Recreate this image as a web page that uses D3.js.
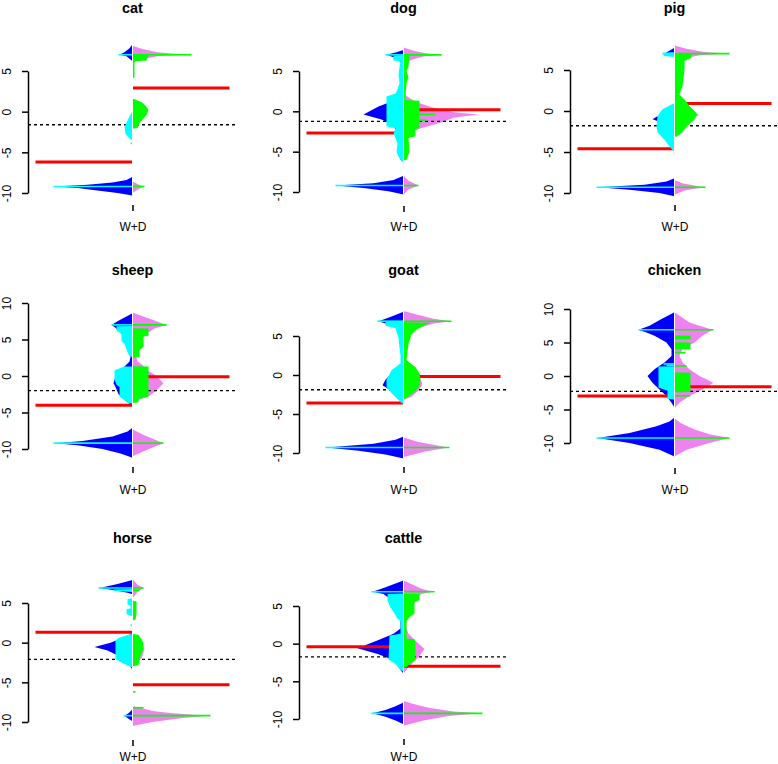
<!DOCTYPE html>
<html><head><meta charset="utf-8">
<script src="https://cdn.jsdelivr.net/npm/d3@7"></script>
<style>
body{margin:0;background:#fff}
svg{display:block}
text{font-family:"Liberation Sans",Arial,Helvetica,sans-serif}
</style>
</head><body>
<svg id="c" width="778" height="764"></svg>
<script>
// ---------------- DATA ----------------
const animals = ["cat","dog","pig","sheep","goat","chicken","horse","cattle"];
const groupLabel = "W+D";
const ticksA = [-10,-5,0,5];
const ticksB = [-10,-5,0,5,10];

// means: left group (red, left), right group (red, right), overall (dotted)
const leftMeans    = [-6.2,-2.7,-4.6,-4.0,-3.6,-3.0, 1.3,-0.4];
const rightMeans   = [ 2.9, 0.2, 0.9,-0.1,-0.2,-1.6,-5.3,-3.0];
const overallMeans = [-1.6,-1.25,-1.8,-2.0,-1.9,-2.3,-2.1,-1.75];

// density profiles: [value, density width]
const catBlue = [[8.3,0],[7.8,3],[7.3,8],[7.0,13],[6.8,6],[6.4,2],[6.2,0],[-8.0,0],[-8.4,6],[-8.7,20],[-9.0,45],[-9.2,78],[-9.4,55],[-9.7,35],[-10.0,15],[-10.3,0]];
const catViolet = [[8.1,0],[7.7,10],[7.3,25],[7.0,54],[6.8,25],[6.4,8],[6.0,0],[-8.6,0],[-8.9,5],[-9.2,11],[-9.6,5],[-10.0,0]];
const catCyan = [[0.0,0],[-0.1,1],[-0.6,3],[-1.1,5],[-1.9,8],[-2.7,7],[-3.3,3],[-3.5,0]];
const catGreen = [[7.0,0],[6.95,16],[6.3,14],[6.2,2],[4.2,2],[4.1,0],[1.6,0],[1.5,3],[1.1,10],[0.6,14],[0.2,16],[-0.4,14],[-1.4,7],[-2.0,5],[-2.1,0]];
const catCyanLines = [[7.0,14],[-3.9,2],[-9.2,79]];
const catGreenLines = [[7.0,59],[-9.2,12]];

const dogBlue = [[7.6,0],[7.3,8],[7.0,17],[6.7,10],[6.4,5],[6.0,2],[5.6,1],[2.7,1],[2.3,3],[1.4,8],[0.6,25],[-0.4,40],[-1.0,22],[-1.6,12],[-2.5,6],[-3.0,3],[-6.0,3],[-6.3,0],[-8.0,0],[-8.5,10],[-8.9,30],[-9.2,67],[-9.5,40],[-9.9,15],[-10.3,0]];
const dogViolet = [[7.9,0],[7.5,10],[7.2,22],[7.0,37],[6.8,20],[6.4,8],[6.0,3],[5.5,1],[2.3,1],[1.9,3],[1.2,12],[0.5,28],[-0.1,50],[-0.4,75],[-0.8,50],[-1.4,37],[-2.0,20],[-2.3,12],[-2.6,4],[-3.0,1],[-6.0,1],[-6.2,0],[-8.0,0],[-8.6,5],[-9.2,15],[-9.7,5],[-10.3,0]];
const dogCyan = [[7.0,0],[6.9,10],[6.3,10],[6.2,3],[5.5,4],[4.5,5],[3.5,4],[2.7,6],[2.2,8],[1.85,17],[-1.85,17],[-2.1,8],[-2.8,10],[-3.3,8],[-4.0,6],[-5.0,7],[-5.6,5],[-6.2,2],[-6.3,0]];
const dogGreen = [[7.0,0],[6.9,6],[5.5,5],[5.0,3],[4.2,5],[3.5,3],[2.0,2],[1.4,2],[1.3,16],[-2.05,16],[-2.3,12],[-3.1,12],[-3.3,5],[-5.0,6],[-6.0,3],[-6.1,0]];
const dogCyanLines = [[7.0,18],[-9.2,68]];
const dogGreenLines = [[7.0,38],[-0.4,32],[-1.1,23],[-9.2,15]];

const pigBlue = [[7.7,0],[7.3,6],[7.0,10],[6.8,4],[6.6,0],[-0.4,0],[-0.7,18],[-1.0,22],[-1.3,15],[-1.6,8],[-2.0,0],[-8.2,0],[-8.6,8],[-9.0,30],[-9.3,77],[-9.6,45],[-10.0,15],[-10.4,0]];
const pigViolet = [[8.0,0],[7.6,12],[7.2,30],[7.0,53],[6.8,25],[6.4,10],[6.1,3],[5.5,0],[0.5,0],[-0.3,20],[-0.5,25],[-0.9,15],[-1.5,0],[-8.4,0],[-8.8,8],[-9.3,29],[-9.7,10],[-10.2,0]];
const pigCyan = [[7.15,0],[7.1,12],[6.7,10],[6.6,0],[1.0,0],[0.9,1],[0.2,12],[-0.6,17],[-1.8,18],[-2.6,17],[-3.5,10],[-4.3,5],[-4.9,1],[-5.0,0]];
const pigGreen = [[7.0,0],[6.95,17],[6.5,17],[6.1,10],[5.0,10],[4.0,9],[3.0,8],[2.0,5],[1.4,10],[0.6,15],[-0.4,23],[-1.0,20],[-1.8,13],[-2.7,7],[-3.1,2],[-3.2,0]];
const pigCyanLines = [[7.0,12],[6.8,10],[-5.2,1],[-9.3,78]];
const pigGreenLines = [[7.0,55],[-9.3,31]];

const sheepBlue = [[8.6,0],[8.0,8],[7.5,15],[7.0,21],[6.6,17],[6.2,14],[5.6,10],[5.0,8],[4.4,5],[3.5,3],[2.6,2],[2.0,3],[1.3,8],[0.5,15],[-0.5,18],[-1.0,19],[-1.5,17],[-2.5,14],[-3.5,6],[-3.9,2],[-4.0,0],[-7.1,0],[-7.6,5],[-8.3,20],[-8.9,50],[-9.2,78],[-9.5,55],[-10.0,30],[-10.6,12],[-11.2,0]];
const sheepViolet = [[8.7,0],[8.2,10],[7.6,22],[7.0,34],[6.5,22],[5.8,14],[5.0,9],[4.0,5],[3.0,3],[2.0,5],[1.5,10],[0.8,15],[0.0,24],[-1.0,31],[-2.0,24],[-2.8,16],[-3.3,5],[-3.6,0],[-7.3,0],[-8.0,10],[-8.7,22],[-9.2,31],[-9.8,20],[-10.5,8],[-11.0,0]];
const sheepCyan = [[6.85,0],[6.8,16],[6.2,16],[5.8,11],[4.8,11],[4.4,8],[3.6,6],[2.7,3],[2.6,0],[1.35,0],[1.3,8],[0.8,18],[-0.5,18],[-1.2,16],[-1.5,13],[-2.8,13],[-3.3,8],[-3.7,4],[-3.8,0]];
const sheepGreen = [[6.55,0],[6.5,16],[5.5,16],[5.4,11],[4.0,11],[3.5,7],[2.6,7],[2.5,0],[1.35,0],[1.3,16],[-2.8,16],[-3.2,6],[-3.6,6],[-3.7,0]];
const sheepCyanLines = [[7.0,21],[-9.2,79]];
const sheepGreenLines = [[7.0,34],[-9.2,31]];

const goatBlue = [[8.1,0],[7.6,10],[7.2,18],[6.9,25],[6.6,18],[6.2,8],[5.8,3],[5.0,2],[1.2,0],[0.5,10],[-0.6,18],[-1.3,21],[-1.8,15],[-2.5,8],[-3.2,3],[-3.6,0],[-7.9,0],[-8.3,8],[-8.8,30],[-9.3,77],[-9.7,45],[-10.2,18],[-10.7,0]];
const goatViolet = [[8.2,0],[7.7,15],[7.2,30],[6.9,48],[6.6,30],[6.0,15],[5.2,6],[4.9,3],[1.5,0],[0.5,12],[-0.5,17],[-1.2,19],[-2.0,15],[-2.8,8],[-3.2,0],[-8.0,0],[-8.6,15],[-9.3,45],[-9.8,22],[-10.5,0]];
const goatCyan = [[6.85,0],[6.8,18],[6.3,18],[6.0,8],[5.5,7],[4.8,5],[3.5,4],[2.5,3],[1.5,3],[1.0,8],[0.6,12],[-0.6,17],[-1.5,17],[-2.3,12],[-3.2,5],[-3.6,2],[-3.7,0]];
const goatGreen = [[6.75,0],[6.7,27],[6.3,20],[5.8,13],[5.2,8],[4.0,5],[3.0,4],[1.9,3],[1.0,12],[0.2,16],[-0.6,17],[-1.5,16],[-2.3,10],[-3.0,2],[-3.1,0]];
const goatCyanLines = [[6.9,26],[6.6,18],[-4.7,1],[-9.3,78]];
const goatGreenLines = [[6.9,48],[-9.3,46]];

const chickenBlue = [[9.5,0],[8.5,13],[7.5,25],[6.9,36],[6.5,28],[6.0,20],[5.0,8],[4.0,3],[3.0,3],[2.0,10],[1.0,20],[0.0,27],[-1.0,22],[-2.0,15],[-3.0,8],[-4.0,3],[-4.7,0],[-6.2,0],[-6.8,5],[-7.5,18],[-8.5,45],[-9.25,77],[-10.0,45],[-11.0,15],[-12.0,0]];
const chickenViolet = [[9.5,0],[8.0,15],[7.5,25],[6.9,38],[6.0,28],[5.0,20],[4.0,8],[3.0,5],[2.0,8],[1.0,15],[0.0,25],[-1.0,39],[-2.0,28],[-3.0,15],[-4.0,5],[-4.8,0],[-6.3,0],[-7.0,6],[-8.0,20],[-8.7,35],[-9.25,55],[-10.0,35],[-11.0,12],[-12.0,0]];
const chickenCyan = [[1.45,0],[1.4,16],[-1.7,16],[-2.2,7],[-3.4,7],[-3.5,0]];
const chickenGreen = [[6.05,0],[6.0,16],[5.5,16],[5.45,0],[5.05,0],[5.0,16],[4.0,16],[3.95,0],[0.55,0],[0.5,16],[-2.4,16],[-2.45,0]];
const chickenCyanLines = [[6.9,36],[1.8,11],[1.6,8],[-9.25,78]];
const chickenGreenLines = [[6.9,39],[3.5,11],[1.5,12],[-2.95,16],[-9.25,55]];

const horseBlue = [[7.9,0],[7.4,15],[6.9,33],[6.6,18],[6.3,5],[6.1,0],[1.2,0],[0.6,10],[0.0,22],[-0.55,38],[-1.0,25],[-1.9,10],[-2.8,3],[-3.4,0],[-8.4,0],[-8.9,4],[-9.2,8],[-9.6,4],[-9.9,0]];
const horseViolet = [[8.0,0],[7.3,5],[6.9,11],[6.4,5],[5.6,0],[1.0,0],[0.0,8],[-0.8,12],[-2.0,9],[-3.0,0],[-8.0,0],[-8.3,11],[-8.6,20],[-8.9,40],[-9.2,76],[-9.5,50],[-10.0,20],[-10.5,0]];
const horseCyan = [[6.75,0],[6.7,19],[6.5,19],[6.4,0],[5.6,0],[5.5,5],[4.8,5],[4.7,2],[4.3,2],[4.2,6],[3.6,6],[3.4,2],[3.3,0],[1.1,0],[1.0,4],[0.6,14],[0.2,17],[-2.1,17],[-2.5,11],[-3.0,3],[-3.1,0]];
const horseGreen = [[5.3,0],[5.2,4],[3.6,4],[2.9,3],[2.8,0],[1.1,0],[1.0,6],[0.0,11],[-0.7,11],[-1.3,9],[-2.1,7],[-2.8,6],[-3.0,0]];
const horseCyanLines = [[6.9,34],[2.2,2],[-9.2,9]];
const horseGreenLines = [[6.9,11],[6.6,7],[-6.2,3],[-8.2,11],[-9.2,78]];

const cattleBlue = [[8.4,0],[7.8,12],[7.3,22],[6.9,31],[6.6,20],[6.0,14],[5.0,10],[4.0,6],[3.0,3],[2.0,3],[1.3,10],[0.5,25],[-0.6,46],[-1.4,25],[-2.3,8],[-3.5,3],[-4.0,0],[-7.8,0],[-8.3,8],[-8.8,18],[-9.25,31],[-9.7,18],[-10.2,8],[-10.7,0]];
const cattleViolet = [[8.4,0],[7.8,10],[7.3,18],[6.9,29],[6.6,18],[6.0,13],[5.0,10],[4.0,7],[3.0,3],[2.0,3],[1.3,5],[0.4,12],[-0.7,21],[-1.8,15],[-3.1,5],[-4.0,0],[-7.6,0],[-8.0,10],[-8.5,25],[-9.0,50],[-9.25,77],[-9.6,45],[-10.2,20],[-10.9,0]];
const cattleCyan = [[6.65,0],[6.6,16],[5.7,16],[4.8,13],[4.0,9],[3.3,6],[3.0,3],[1.3,3],[1.1,14],[-2.1,15],[-2.7,8],[-3.5,3],[-3.7,0]];
const cattleGreen = [[6.65,0],[6.6,16],[5.8,16],[5.5,11],[4.0,11],[3.5,6],[3.0,3],[0.7,3],[0.6,11],[0.2,12],[-2.2,12],[-2.6,7],[-3.1,3],[-3.2,0]];
const cattleCyanLines = [[6.9,32],[-9.25,32]];
const cattleGreenLines = [[6.9,31],[-9.25,79]];

const blueSets   = [catBlue,dogBlue,pigBlue,sheepBlue,goatBlue,chickenBlue,horseBlue,cattleBlue];
const violetSets = [catViolet,dogViolet,pigViolet,sheepViolet,goatViolet,chickenViolet,horseViolet,cattleViolet];
const cyanSets   = [catCyan,dogCyan,pigCyan,sheepCyan,goatCyan,chickenCyan,horseCyan,cattleCyan];
const greenSets  = [catGreen,dogGreen,pigGreen,sheepGreen,goatGreen,chickenGreen,horseGreen,cattleGreen];
const cyanLineSets  = [catCyanLines,dogCyanLines,pigCyanLines,sheepCyanLines,goatCyanLines,chickenCyanLines,horseCyanLines,cattleCyanLines];
const greenLineSets = [catGreenLines,dogGreenLines,pigGreenLines,sheepGreenLines,goatGreenLines,chickenGreenLines,horseGreenLines,cattleGreenLines];
const tickSets = [ticksA,ticksA,ticksA,ticksB,ticksA,ticksB,ticksA,ticksA];

// ---------------- LAYOUT ----------------
const layout = [
  {axisX:28,  hi:5,  hiPx:71,  loPx:193, tickY:205, titleY:13,  labelY:232},
  {axisX:299, hi:5,  hiPx:71,  loPx:192, tickY:206, titleY:13,  labelY:232},
  {axisX:570, hi:5,  hiPx:70,  loPx:193, tickY:205, titleY:13,  labelY:232},
  {axisX:28,  hi:10, hiPx:303, loPx:449, tickY:467, titleY:275, labelY:495},
  {axisX:299, hi:5,  hiPx:336, loPx:453, tickY:467, titleY:275, labelY:495},
  {axisX:570, hi:10, hiPx:309, loPx:443, tickY:468, titleY:275, labelY:495},
  {axisX:28,  hi:5,  hiPx:603, loPx:722, tickY:740, titleY:543, labelY:762},
  {axisX:299, hi:5,  hiPx:606, loPx:719, tickY:739, titleY:543, labelY:762}
];
const HALF = 104.5, MEANLEN = 97;
const COL = {blue:"#0000FF", violet:"#EE82EE", cyan:"#00FFFF", green:"#00FF00", red:"#FF0000"};

const svg = d3.select("#c");
svg.append("rect").attr("width",778).attr("height",764).attr("fill","#fff");

animals.forEach((name,i)=>{
  const L = layout[i];
  const g = svg.append("g");
  const x = d3.scaleLinear().domain([-HALF,HALF]).range([L.axisX, L.axisX+2*HALF]);
  const y = d3.scaleLinear().domain([-10,L.hi]).range([L.loPx,L.hiPx]);
  const leftArea = d3.area().y(d=>y(d[0])).x0(x(0)).x1(d=>x(-d[1]));
  const rightArea = d3.area().y(d=>y(d[0])).x0(x(0)).x1(d=>x(d[1]));

  // density polygons
  g.append("path").attr("d",leftArea(blueSets[i])).attr("fill",COL.blue);
  g.append("path").attr("d",rightArea(violetSets[i])).attr("fill",COL.violet);

  // overall mean dotted line
  g.append("line").attr("x1",x(-HALF)).attr("x2",x(HALF))
    .attr("y1",y(overallMeans[i])).attr("y2",y(overallMeans[i]))
    .attr("stroke","#000").attr("stroke-width",1.4).attr("stroke-dasharray","3,3");

  // group mean lines
  g.append("line").attr("x1",x(-MEANLEN)).attr("x2",x(0))
    .attr("y1",y(leftMeans[i])).attr("y2",y(leftMeans[i]))
    .attr("stroke",COL.red).attr("stroke-width",3);
  g.append("line").attr("x1",x(0)).attr("x2",x(MEANLEN))
    .attr("y1",y(rightMeans[i])).attr("y2",y(rightMeans[i]))
    .attr("stroke",COL.red).attr("stroke-width",3);

  // bean lines (stacked)
  g.append("path").attr("d",leftArea(cyanSets[i])).attr("fill",COL.cyan);
  g.append("path").attr("d",rightArea(greenSets[i])).attr("fill",COL.green);
  g.selectAll(".cl").data(cyanLineSets[i]).join("line")
    .attr("x1",x(0)).attr("x2",d=>x(-d[1])).attr("y1",d=>y(d[0])).attr("y2",d=>y(d[0]))
    .attr("stroke",COL.cyan).attr("stroke-width",1.6);
  g.selectAll(".gl").data(greenLineSets[i]).join("line")
    .attr("x1",x(0)).attr("x2",d=>x(d[1])).attr("y1",d=>y(d[0])).attr("y2",d=>y(d[0]))
    .attr("stroke",COL.green).attr("stroke-width",1.6);

  // white centre line over the bean
  const allV = blueSets[i].concat(violetSets[i]).map(d=>d[0]);
  g.append("line").attr("x1",x(0)).attr("x2",x(0))
    .attr("y1",y(d3.max(allV))).attr("y2",y(d3.min(allV)))
    .attr("stroke","#fff").attr("stroke-width",1);

  // y axis
  const ya = g.append("g").attr("transform",`translate(${L.axisX},0)`)
    .call(d3.axisLeft(y).tickValues(tickSets[i]).tickSize(6).tickSizeOuter(0).tickFormat(d=>String(d)));
  ya.select(".domain").attr("stroke","#000").attr("stroke-width",1.5);
  ya.selectAll(".tick line").attr("stroke","#000").attr("stroke-width",1.5);
  ya.selectAll(".tick text").attr("x",0).attr("dy",null).attr("y",0)
    .attr("text-anchor","middle").attr("transform","translate(-17,0) rotate(-90)")
    .attr("font-size","12px").attr("fill","#000")
    .attr("font-family","'Liberation Sans',Arial,Helvetica,sans-serif");

  // x axis (single group)
  const xb = d3.scalePoint().domain([groupLabel]).range([x(-HALF),x(HALF)]).padding(0.5);
  const xa = g.append("g").attr("transform",`translate(0,${L.tickY})`)
    .call(d3.axisBottom(xb).tickSize(6).tickPadding(L.labelY-L.tickY-15.5));
  xa.select(".domain").remove();
  xa.selectAll(".tick line").attr("stroke","#000").attr("stroke-width",1.5);
  xa.selectAll(".tick text").attr("font-size","12px").attr("fill","#000")
    .attr("font-family","'Liberation Sans',Arial,Helvetica,sans-serif");

  // title
  g.append("text").attr("x",x(0)).attr("y",L.titleY).attr("text-anchor","middle")
    .attr("font-weight","bold").attr("font-size","14.4px").text(name);
});
</script>
</body></html>
